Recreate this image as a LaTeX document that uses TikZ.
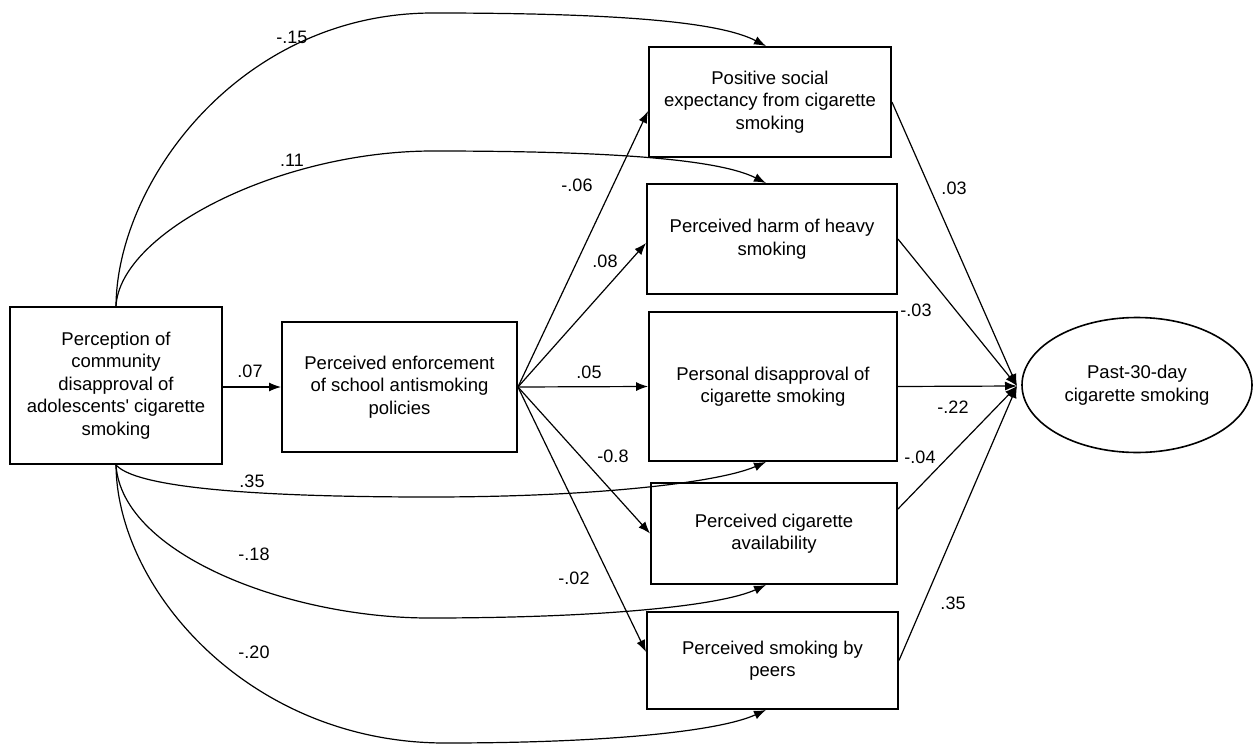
\documentclass[tikz,border=0pt]{standalone}
\usepackage{fontspec}
\setmainfont{Liberation Sans}
\usetikzlibrary{arrows.meta,shapes.geometric}
\begin{document}
\begin{tikzpicture}[x=1pt,y=-1pt,
  box/.style={draw, line width=1.9pt, align=center, inner sep=0pt, font=\fontsize{18.5}{22.5}\selectfont},
  oval/.style={draw, ellipse, line width=1.6pt, align=center, inner sep=0pt, font=\fontsize{18.5}{22.5}\selectfont},
  lab/.style={inner sep=0pt, font=\fontsize{18}{22}\selectfont},
  conn/.style={line width=1.2pt, -{Latex[length=12pt,width=9pt]}},
  ]
\useasboundingbox (0,0) rectangle (1254,744);
% nodes
\node[box, minimum width=212pt, minimum height=157pt] (L) at (116,385.5)
  {Perception of\\community\\disapproval of\\adolescents\textquotesingle\ cigarette\\smoking};
\node[box, minimum width=235pt, minimum height=130pt] (M) at (399.5,387)
  {Perceived enforcement\\of school antismoking\\policies};
\node[box, minimum width=242pt, minimum height=110pt] (PS) at (770,102)
  {Positive social\\expectancy from cigarette\\smoking};
\node[box, minimum width=250pt, minimum height=110pt] (PH) at (772,239)
  {Perceived harm of heavy\\smoking};
\node[box, minimum width=248pt, minimum height=149pt] (PD) at (773,386.5)
  {Personal disapproval of\\cigarette smoking};
\node[box, minimum width=246pt, minimum height=101pt] (PA) at (774,533.5)
  {Perceived cigarette\\availability};
\node[box, minimum width=251pt, minimum height=97pt] (PP) at (772.5,660.5)
  {Perceived smoking by\\peers};
\node[oval, minimum width=230pt, minimum height=135pt] (E) at (1137,385)
  {Past-30-day\\cigarette smoking};
\coordinate (C) at (1017,386);

% left -> middle
\draw[conn] (L.east |- M.west) -- (M.west);
% middle fan
\draw[conn] (M.east) -- ([yshift=-9pt]PS.west);
\draw[conn] (M.east) -- ([yshift=-4pt]PH.west);
\draw[conn] (M.east) -- (PD.west);
\draw[conn] (M.east) -- (PA.west);
\draw[conn] (M.east) -- ([yshift=8.5pt]PP.west);
% curves from left box
\draw[conn] (L.north) .. controls (117,182) and (240,13) .. (433,13)
  .. controls (620,13) and (720,22) .. ([xshift=-4pt]PS.north);
\draw[conn] (L.north) .. controls (120,232) and (280,151) .. (433,151)
  .. controls (620,151) and (720,160) .. ([xshift=-6pt]PH.north);
\draw[conn] (L.south) .. controls (140,492) and (300,497) .. (430,497)
  .. controls (600,497) and (720,482) .. ([xshift=-7pt]PD.south);
\draw[conn] (L.south) .. controls (122,555) and (290,618) .. (429,618)
  .. controls (600,618) and (720,606) .. ([xshift=-8pt]PA.south);
\draw[conn] (L.south) .. controls (117,590) and (250,743) .. (445,743)
  .. controls (610,743) and (720,731) .. ([xshift=-6.5pt]PP.south);
% to outcome
\draw[conn] (PS.east) -- (C);
\draw[conn] (PH.east) -- (C);
\draw[conn] (PD.east) -- (C);
\draw[conn] ([yshift=24.5pt]PA.east) -- (C);
\draw[conn] (PP.east) -- (C);

% labels
\node[lab] (l07) at (250,371) {.07};
\node[lab] (l15) at (292,37) {-.15};
\node[lab] (l11) at (292,160) {.11};
\node[lab] (l06) at (577,185) {-.06};
\node[lab] (l08) at (605,261) {.08};
\node[lab] (l05) at (589,372) {.05};
\node[lab] (l80) at (613,456) {-0.8};
\node[lab] (l02) at (574,578) {-.02};
\node[lab] (l35a) at (252,481) {.35};
\node[lab] (l18) at (254,554) {-.18};
\node[lab] (l20) at (254,652) {-.20};
\node[lab] (r03) at (954,188) {.03};
\node[lab] (rm03) at (916,310) {-.03};
\node[lab] (r22) at (953,407) {-.22};
\node[lab] (r04) at (920,457) {-.04};
\node[lab] (r35) at (953,603) {.35};
\end{tikzpicture}
\end{document}
